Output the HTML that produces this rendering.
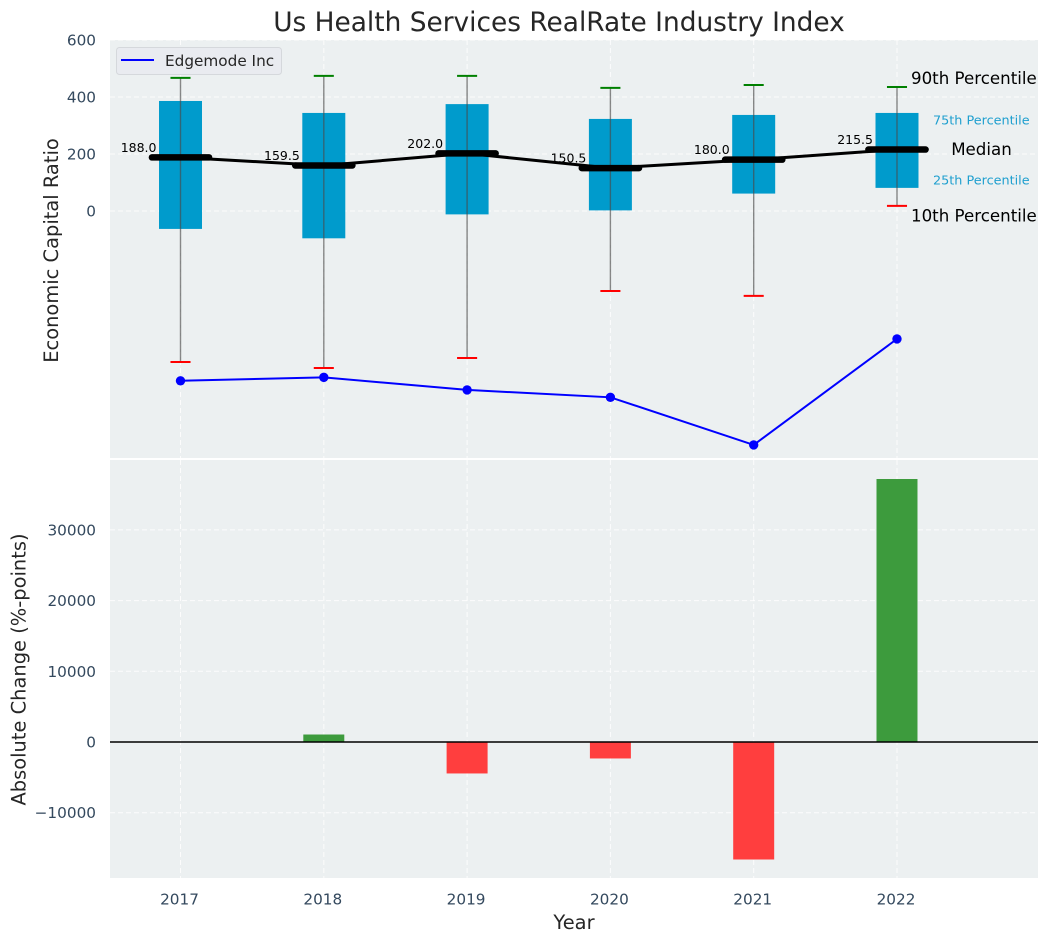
<!DOCTYPE html>
<html lang="en">
<head>
<meta charset="utf-8">
<title>Us Health Services RealRate Industry Index</title>
<style>
html,body{margin:0;padding:0;background:#fff;width:1048px;height:942px;overflow:hidden}
svg{display:block;font-family:"DejaVu Sans","Liberation Sans",sans-serif}
</style>
</head>
<body>
<svg id="chart" width="1048" height="942" viewBox="0 0 1048 942" xmlns="http://www.w3.org/2000/svg">
  <text x="559" y="31" text-anchor="middle" font-size="26.4px" fill="#262626">Us Health Services RealRate Industry Index</text>
  <rect x="110" y="40" width="928" height="418" fill="#ecf0f1"/>
  <rect x="110" y="460" width="928" height="418" fill="#ecf0f1"/>
  <g id="grid"></g>
  <g id="bars"></g>
  <g id="boxes"></g>
  <g id="company"></g>
  <g id="ticks"></g>
  <g id="notes"></g>
  <text transform="translate(58,250.5) rotate(-90)" text-anchor="middle" font-size="19.44px" fill="#262626">Economic Capital Ratio</text>
  <text transform="translate(25.5,669.5) rotate(-90)" text-anchor="middle" font-size="19.44px" fill="#262626">Absolute Change (%-points)</text>
  <text x="574" y="929" text-anchor="middle" font-size="19.44px" fill="#262626">Year</text>
  <g>
    <rect x="116.5" y="47.5" width="165" height="27" rx="3" fill="#e9ebf0" stroke="#d5d8dc" stroke-width="1"/>
    <line x1="121" y1="60" x2="154" y2="60" stroke="#0000ff" stroke-width="2"/>
    <text x="165" y="66" font-size="15.28px" fill="#262626">Edgemode Inc</text>
  </g>
</svg>
<script>
const years = [2017, 2018, 2019, 2020, 2021, 2022];
const p90 = [467, 474, 474, 432, 442, 435];
const p75 = [386, 344, 375, 323, 337, 344];
const medians = [188.0, 159.5, 202.0, 150.5, 180.0, 215.5];
const p25 = [-63, -96, -12, 2, 61, 81];
const p10 = [-530, -551, -516, -281, -298, 18];
const companyValues = [-596, -584, -628, -654, -821, -449];
const absoluteChange = [0, 1060, -4450, -2330, -16620, 37200];
const topTicks = [600, 400, 200, 0];
const bottomTicks = [30000, 20000, 10000, 0, -10000];

const NS = 'http://www.w3.org/2000/svg';
const X0 = 110, X1 = 1038;
const xMin = 2016.508, xMax = 2022.984;
const topY0 = 40, topY1 = 458, topMax = 600, topMin = -867;
const botY0 = 460, botY1 = 878, botMax = 39887, botMin = -19236;

function x(v) { return X0 + (v - xMin) / (xMax - xMin) * (X1 - X0); }
function yTop(v) { return topY0 + (topMax - v) / (topMax - topMin) * (topY1 - topY0); }
function yBot(v) { return botY0 + (botMax - v) / (botMax - botMin) * (botY1 - botY0); }
function make(parent, tag, attrs, text) {
  const el = document.createElementNS(NS, tag);
  for (const k in attrs) el.setAttribute(k, attrs[k]);
  if (text !== undefined) el.textContent = text;
  document.getElementById(parent).appendChild(el);
  return el;
}
const gridStyle = { stroke: '#ffffff', 'stroke-width': 1, 'stroke-dasharray': '5 3', opacity: 0.85 };
const boxW = 0.3, barW = 0.286, capW = 0.14, medW = 0.42;
const scale = (X1 - X0) / (xMax - xMin);
const tickColor = '#34495e';

years.forEach(function (yr) {
  const a = make('grid', 'line', Object.assign({ x1: x(yr), x2: x(yr), y1: topY0, y2: topY1 }, gridStyle));
  
  
  const b = make('grid', 'line', Object.assign({ x1: x(yr), x2: x(yr), y1: botY0, y2: botY1 }, gridStyle));
  
  
  const t = make('ticks', 'text', { x: x(yr) - 1, y: 904.5, 'text-anchor': 'middle', 'font-size': '15.28px', fill: tickColor }, String(yr));
  
  
});
topTicks.forEach(function (v) {
  const g = make('grid', 'line', Object.assign({ x1: X0, x2: X1, y1: yTop(v), y2: yTop(v) }, gridStyle));
  
  
  const t = make('ticks', 'text', { x: 96, y: yTop(v) + 5.5, 'text-anchor': 'end', 'font-size': '15.28px', fill: tickColor }, String(v));
  
  
});
bottomTicks.forEach(function (v) {
  const g = make('grid', 'line', Object.assign({ x1: X0, x2: X1, y1: yBot(v), y2: yBot(v) }, gridStyle));
  
  
  const t = make('ticks', 'text', { x: 96, y: yBot(v) + 5.5, 'text-anchor': 'end', 'font-size': '15.28px', fill: tickColor }, String(v).replace('-', '\u2212'));
  
  
});

absoluteChange.forEach(function (v, i) {
  const top = Math.min(yBot(v), yBot(0));
  const bar = make('bars', 'rect', {
    x: x(years[i]) - barW * scale / 2, y: top, width: barW * scale,
    height: Math.abs(yBot(v) - yBot(0)), fill: v >= 0 ? '#3d9b3d' : '#ff3e3e'
  });
  
  
});
const zero = make('bars', 'line', { x1: X0, x2: X1, y1: yBot(0), y2: yBot(0), stroke: '#000000', 'stroke-width': 1.5 });



years.forEach(function (yr, i) {
  const cx = x(yr);
  const box = make('boxes', 'rect', {
    x: cx - boxW * scale / 2, y: yTop(p75[i]), width: boxW * scale,
    height: yTop(p25[i]) - yTop(p75[i]), fill: '#009bcc'
  });
  
  
  const w = make('boxes', 'line', { x1: cx, x2: cx, y1: yTop(p90[i]), y2: yTop(p10[i]), stroke: '#4a4a4a', 'stroke-opacity': 0.65, 'stroke-width': 1.4 });
  
  
  const hi = make('boxes', 'line', { x1: cx - capW * scale / 2, x2: cx + capW * scale / 2, y1: yTop(p90[i]), y2: yTop(p90[i]), stroke: '#008000', 'stroke-width': 2 });
  
  
  const lo = make('boxes', 'line', { x1: cx - capW * scale / 2, x2: cx + capW * scale / 2, y1: yTop(p10[i]), y2: yTop(p10[i]), stroke: '#ff0000', 'stroke-width': 2 });
  
  
});

const medLine = make('boxes', 'polyline', {
  points: years.map(function (yr, i) { return x(yr) + ',' + yTop(medians[i]); }).join(' '),
  fill: 'none', stroke: '#000000', 'stroke-width': 3
});



years.forEach(function (yr, i) {
  const cx = x(yr);
  const m = make('boxes', 'line', { x1: cx - medW * scale / 2 + 1.5, x2: cx + medW * scale / 2 - 1.5, y1: yTop(medians[i]), y2: yTop(medians[i]), stroke: '#000000', 'stroke-width': 6.5, 'stroke-linecap': 'round' });
  
  
  const t = make('boxes', 'text', { x: cx - 24, y: yTop(medians[i]) - 5.5, 'text-anchor': 'end', 'font-size': '12.5px', fill: '#000000' }, medians[i].toFixed(1));
  
  
});

const compLine = make('company', 'polyline', {
  points: years.map(function (yr, i) { return x(yr) + ',' + yTop(companyValues[i]); }).join(' '),
  fill: 'none', stroke: '#0000ff', 'stroke-width': 2
});


years.forEach(function (yr, i) {
  const c = make('company', 'circle', { cx: x(yr), cy: yTop(companyValues[i]), r: 4.7, fill: '#0000ff' });
  
  
});

const last = years.length - 1;
const lx = x(years[last]);
const n90 = make('notes', 'text', { x: lx + 14, y: yTop(p90[last]) - 3, 'font-size': '16.67px', fill: '#000000' }, '90th Percentile');


const n75 = make('notes', 'text', { x: lx + 36, y: yTop(p75[last]) + 11.5, 'font-size': '12.8px', fill: '#1f9fcf' }, '75th Percentile');


const nMed = make('notes', 'text', { x: lx + 84.5, y: yTop(medians[last]) + 5.5, 'text-anchor': 'middle', 'font-size': '16.67px', fill: '#000000' }, 'Median');


const n25 = make('notes', 'text', { x: lx + 36, y: yTop(p25[last]) - 3.5, 'font-size': '12.8px', fill: '#1f9fcf' }, '25th Percentile');


const n10 = make('notes', 'text', { x: lx + 14, y: yTop(p10[last]) + 15.5, 'font-size': '16.67px', fill: '#000000' }, '10th Percentile');


</script>
</body>
</html>
